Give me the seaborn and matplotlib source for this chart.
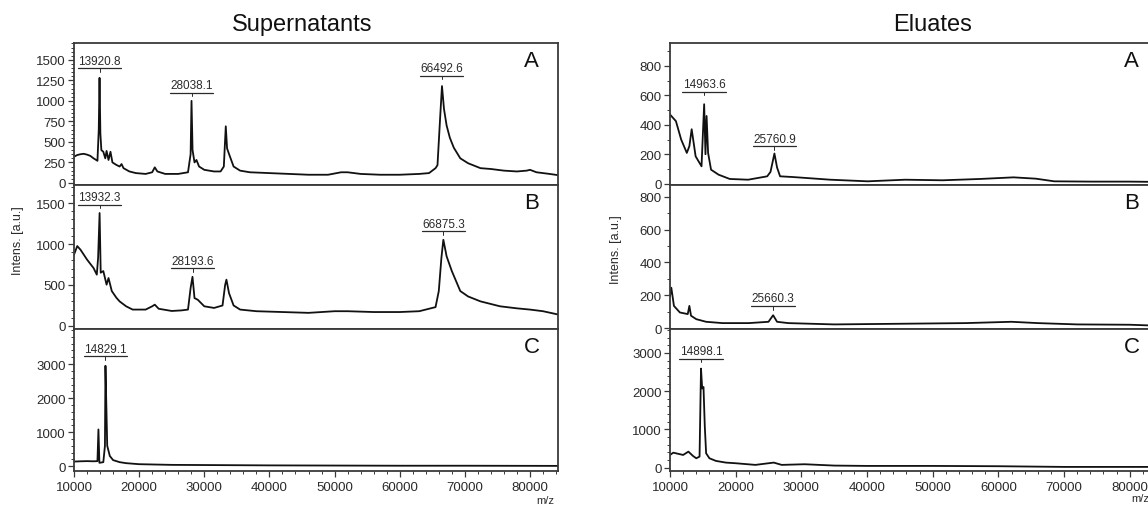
import matplotlib
matplotlib.use("Agg")
import matplotlib.pyplot as plt
from matplotlib.ticker import MultipleLocator, FixedLocator
import numpy as np
import pandas as pd
import seaborn as sns

# Spektra (m/z, intensitet)
sup_a_mz = [10000, 10500, 11000, 11500, 12000, 12500, 13000, 13600, 13800, 13920, 14050, 14200, 14500,
            14800, 15000, 15300, 15600, 15900, 16500, 17000, 17300, 17600, 18500, 19500, 21000, 22000,
            22400, 22800, 24000, 26000, 27500, 27900, 28040, 28200, 28500, 28800, 29200, 30000, 31500,
            32500, 33000, 33300, 33500, 33900, 34500, 35500, 37000, 40000, 43000, 46000, 49000, 51000,
            52000, 54000, 57000, 60000, 63000, 64500, 65500, 65800, 66200, 66490, 66800, 67200, 67700,
            68300, 69300, 70500, 72400, 74000, 76000, 78000, 79500, 80000, 81000, 83000, 84300]
sup_a_int = [320, 340, 350, 355, 345, 330, 300, 270, 650, 1280, 600, 400, 380,
             300, 390, 280, 380, 250, 220, 200, 230, 180, 140, 120, 110, 130,
             190, 140, 110, 110, 130, 350, 1000, 400, 250, 280, 200, 160, 140,
             140, 200, 690, 420, 330, 200, 150, 130, 120, 110, 100, 100, 130,
             130, 110, 100, 100, 110, 120, 180, 217, 785, 1180, 900, 700, 550,
             430, 300, 240, 180, 170, 150, 140, 150, 160, 130, 110, 95]

sup_b_mz = [10000, 10500, 11000, 12000, 13000, 13500, 13700, 13930, 14100, 14500, 15000, 15300, 15800,
            16500, 17000, 18000, 19000, 21000, 22000, 22400, 23000, 25000, 26500, 27500, 27900, 28190,
            28500, 29000, 30000, 31500, 32800, 33200, 33400, 33800, 34500, 35500, 38000, 42000, 46000,
            50000, 52000, 56000, 60000, 63000, 65000, 65500, 66000, 66400, 66700, 67200, 68000, 69300,
            70500, 72400, 75400, 78000, 80000, 82000, 84300]
sup_b_int = [870, 975, 930, 810, 707, 626, 830, 1378, 650, 670, 504, 585, 426,
             345, 300, 240, 200, 200, 240, 260, 210, 183, 190, 200, 463, 600,
             340, 320, 240, 220, 250, 500, 565, 400, 250, 200, 180, 170, 160,
             180, 180, 170, 170, 180, 220, 230, 426, 830, 1052, 850, 670, 426,
             360, 300, 240, 215, 200, 180, 140]

sup_c_mz = [10000, 11000, 12000, 13000, 13600, 13750, 13900, 14500, 14750, 14830, 14950, 15100, 15500,
            16000, 17000, 18000, 20000, 25000, 30000, 40000, 50000, 60000, 70000, 84300]
sup_c_int = [137, 145, 150, 145, 150, 1080, 100, 120, 600, 2950, 1900, 600, 300,
             180, 120, 90, 60, 40, 35, 25, 20, 15, 15, 10]

elu_a_mz = [10000, 10900, 11700, 12560, 12950, 13300, 13900, 14800, 15200, 15400, 15570, 15800, 16250,
            17400, 19100, 21900, 24800, 25300, 25900, 26300, 26760, 28750, 34400, 40100, 45800, 51500,
            57200, 62300, 65700, 68500, 74200, 79900, 84300]
elu_a_int = [470, 425, 300, 209, 255, 370, 186, 118, 540, 200, 460, 209, 95,
             61, 32, 27, 50, 80, 205, 110, 50, 45, 27, 16, 27, 23,
             32, 43, 34, 16, 14, 14, 12]

elu_b_mz = [10000, 10200, 10600, 11500, 12700, 12950, 13200, 14000, 15500, 18000, 22000, 25000, 25700,
            26300, 28000, 35000, 45000, 55000, 62000, 66000, 72000, 80000, 84300]
elu_b_int = [195, 246, 135, 95, 85, 135, 75, 54, 38, 30, 30, 38, 78,
             38, 30, 22, 26, 30, 38, 30, 22, 20, 14]

elu_c_mz = [10000, 10500, 12000, 12800, 13500, 14000, 14500, 14720, 14900, 15100, 15300, 15500, 16000,
            17000, 18500, 20000, 23000, 25800, 27000, 30500, 35000, 40000, 50000, 60000, 70000, 84300]
elu_c_int = [330, 390, 330, 417, 304, 243, 287, 2590, 2070, 2110, 1070, 374, 243,
             174, 130, 113, 70, 130, 70, 87, 52, 43, 43, 35, 17, 17]

# Toppetiketter: (m/z, understrykningens höjd, text)
sup_a_labels = [(13920, 1400, "13920.8"), (28038, 1100, "28038.1"), (66492, 1304, "66492.6")]
sup_b_labels = [(13932, 1480, "13932.3"), (28193, 707, "28193.6"), (66700, 1156, "66875.3")]
sup_c_labels = [(14830, 3235, "14829.1")]
elu_a_labels = [(15200, 625, "14963.6"), (25900, 255, "25760.9")]
elu_b_labels = [(25700, 135, "25660.3")]
elu_c_labels = [(14720, 2852, "14898.1")]

sns.set_style("ticks")
plt.rcParams['font.family'] = ['Liberation Sans', 'DejaVu Sans']

fig = plt.figure(figsize=(11.48, 5.10), dpi=100)

frame = '#3a3a3a'
ink = '#111111'
txt = '#2a2a2a'

panels = [
    # (mz, int, etiketter, bokstav, ylim, major, högsta tick, minor, kolumn, rad)
    (sup_a_mz, sup_a_int, sup_a_labels, "A", (-25, 1705), 250, 1500, 50, 0, 0),
    (sup_b_mz, sup_b_int, sup_b_labels, "B", (-37, 1720), 500, 1500, 100, 0, 1),
    (sup_c_mz, sup_c_int, sup_c_labels, "C", (-140, 4030), 1000, 3000, 200, 0, 2),
    (elu_a_mz, elu_a_int, elu_a_labels, "A", (-9, 956), 200, 800, 100, 1, 0),
    (elu_b_mz, elu_b_int, elu_b_labels, "B", (-6, 873), 200, 800, 100, 1, 1),
    (elu_c_mz, elu_c_int, elu_c_labels, "C", (-90, 3627), 1000, 3000, 200, 1, 2),
]

lefts = [74 / 1148, 670 / 1148]
widths = [484 / 1148, 488 / 1148]
row_top = [44, 186, 330]
row_bot = [186, 330, 472]

for mz, inten, labels, letter, ylim, major, top, minor, col, row in panels:
    ax = fig.add_axes([lefts[col], 1 - row_bot[row] / 510, widths[col],
                       (row_bot[row] - row_top[row]) / 510])
    df = pd.DataFrame({'mz': mz, 'intens': inten})
    sns.lineplot(data=df, x='mz', y='intens', ax=ax, color=ink, linewidth=1.3,
                 estimator=None, sort=True)
    ax.set_xlim(10000, 84300)
    ax.set_ylim(*ylim)
    ax.set_xlabel('')
    ax.set_ylabel('')
    for s in ax.spines.values():
        s.set_color(frame)
        s.set_linewidth(1.3)
        s.set_visible(True)
    ax.yaxis.set_major_locator(FixedLocator(np.arange(0, top + 1, major)))
    ax.yaxis.set_minor_locator(MultipleLocator(minor))
    ax.tick_params(axis='y', which='major', direction='out', length=4, width=0.9,
                   colors=frame, labelcolor=txt, labelsize=9.5, pad=2)
    ax.tick_params(axis='y', which='minor', direction='out', length=2, width=0.7, colors=frame)
    if row == 2:
        ax.xaxis.set_major_locator(MultipleLocator(10000))
        ax.xaxis.set_minor_locator(MultipleLocator(2000))
        ax.tick_params(axis='x', which='major', direction='out', length=4, width=0.9,
                       colors=frame, labelcolor=txt, labelsize=9.5, pad=3)
        ax.tick_params(axis='x', which='minor', direction='out', length=2, width=0.7, colors=frame)
    else:
        ax.set_xticks([])
        ax.xaxis.set_minor_locator(plt.NullLocator())

    ax.text(0.946, 0.88, letter, transform=ax.transAxes, ha='center', va='center',
            fontsize=16, color='#111111')

    span = ylim[1] - ylim[0]
    for x, y, lab in labels:
        ax.plot([x - 3300, x + 3300], [y, y], color=txt, linewidth=0.9)
        ax.plot([x, x], [y, y - span * 0.025], color=txt, linewidth=0.7)
        ax.text(x, y + span * 0.01, lab, ha='center', va='bottom', fontsize=8.5, color=txt)

fig.text(302 / 1148, 1 - 25 / 510, "Supernatants", ha='center', va='center', fontsize=17, color='#111111')
fig.text(933 / 1148, 1 - 25 / 510, "Eluates", ha='center', va='center', fontsize=17, color='#111111')
fig.text(18 / 1148, 1 - 241 / 510, "Intens. [a.u.]", rotation=90, ha='center', va='center',
         fontsize=9, color=txt)
fig.text(616 / 1148, 1 - 250 / 510, "Intens. [a.u.]", rotation=90, ha='center', va='center',
         fontsize=9, color=txt)
fig.text(545 / 1148, 1 - 501 / 510, "m/z", ha='center', va='center', fontsize=8, color=txt)
fig.text(1140 / 1148, 1 - 499 / 510, "m/z", ha='center', va='center', fontsize=8, color=txt)

fig.savefig("out.png", dpi=100)
